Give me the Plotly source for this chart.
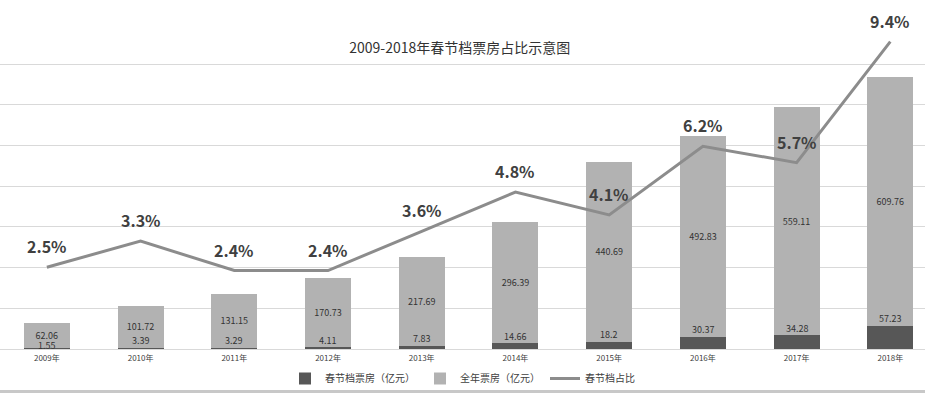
import plotly.graph_objects as go

years = ["2009年", "2010年", "2011年", "2012年", "2013年", "2014年", "2015年", "2016年", "2017年", "2018年"]
spring_box = [1.55, 3.39, 3.29, 4.11, 7.83, 14.66, 18.2, 30.37, 34.28, 57.23]
annual_box = [62.06, 101.72, 131.15, 170.73, 217.69, 296.39, 440.69, 492.83, 559.11, 609.76]
spring_share = [2.5, 3.3, 2.4, 2.4, 3.6, 4.8, 4.1, 6.2, 5.7, 9.4]
grid_vals = [0, 100, 200, 300, 400, 500, 600, 700]

FONT = "Noto Sans CJK SC"
TXT = "#404040"

H = 393
TOP = 20       # plot area top (px)
BASE = 349     # plot area bottom / baseline (px)
PA = BASE - TOP

fig = go.Figure()
fig.add_trace(go.Bar(
    x=years, y=spring_box, name="春节档票房（亿元）",
    marker=dict(color="#575757", line=dict(width=0)), width=0.49,
    hoverinfo="skip",
))
fig.add_trace(go.Bar(
    x=years, y=annual_box, name="全年票房（亿元）",
    marker=dict(color="#b2b2b2", line=dict(width=0)), width=0.49,
    text=[f"{v:g}" for v in annual_box], textposition="inside",
    insidetextanchor="middle", constraintext="none",
    textfont=dict(size=9, color="#333333", family=FONT),
    hoverinfo="skip",
))
fig.add_trace(go.Scatter(
    x=years, y=spring_share, name="春节档占比", yaxis="y2",
    mode="lines", line=dict(color="#8c8c8c", width=3),
    cliponaxis=False, hoverinfo="skip",
))

annotations = []
for yr, v in zip(years, spring_box):
    annotations.append(dict(
        x=yr, y=v, xref="x", yref="y", text=f"{v:g}", showarrow=False,
        yanchor="middle", yshift=7 if v > 2 else 3,
        font=dict(size=9, color="#333333", family=FONT),
    ))
for yr, v in zip(years, spring_share):
    annotations.append(dict(
        x=yr, y=v, xref="x", yref="y2", text=f"{v:.1f}%", showarrow=False,
        yanchor="bottom", yshift=7,
        font=dict(size=16, color=TXT, family=FONT, weight="bold"),
    ))

fig.update_layout(
    width=925, height=H,
    margin=dict(l=0, r=0, t=TOP, b=H - BASE),
    paper_bgcolor="white", plot_bgcolor="white",
    barmode="stack",
    font=dict(family=FONT, color=TXT),
    title=dict(text="2009-2018年春节档票房占比示意图", x=0.497, xanchor="center",
               y=1 - 48 / H, yanchor="middle",
               font=dict(size=14, color="#333333", family=FONT)),
    xaxis=dict(range=[-0.5, 9.37], showgrid=False, showline=False, ticks="",
               ticklabelstandoff=3,
               tickfont=dict(size=8, color="#404040", family=FONT)),
    yaxis=dict(range=[0, PA / 0.4071], tickvals=grid_vals, showgrid=True,
               gridcolor="#d9d9d9", gridwidth=1, showticklabels=False,
               zeroline=True, zerolinecolor="#d9d9d9", zerolinewidth=1),
    yaxis2=dict(range=[0, PA / 32.7], overlaying="y", side="right", showgrid=False,
                showticklabels=False, zeroline=False, showline=False),
    legend=dict(orientation="h", x=0.5, xanchor="center", y=(BASE - 379) / PA,
                yanchor="middle", font=dict(size=10, color="#404040", family=FONT),
                bgcolor="rgba(0,0,0,0)", traceorder="normal", itemwidth=30),
    annotations=annotations,
    shapes=[dict(type="rect", xref="paper", yref="paper", x0=0, x1=1,
                 y0=(BASE - 393) / PA, y1=(BASE - 390) / PA,
                 fillcolor="#c8c8c8", line=dict(width=0), layer="above")],
    showlegend=True,
)

fig.write_html("out.html", config={"displayModeBar": False},
               post_script="document.body.style.margin='0';document.body.style.overflow='hidden';")
